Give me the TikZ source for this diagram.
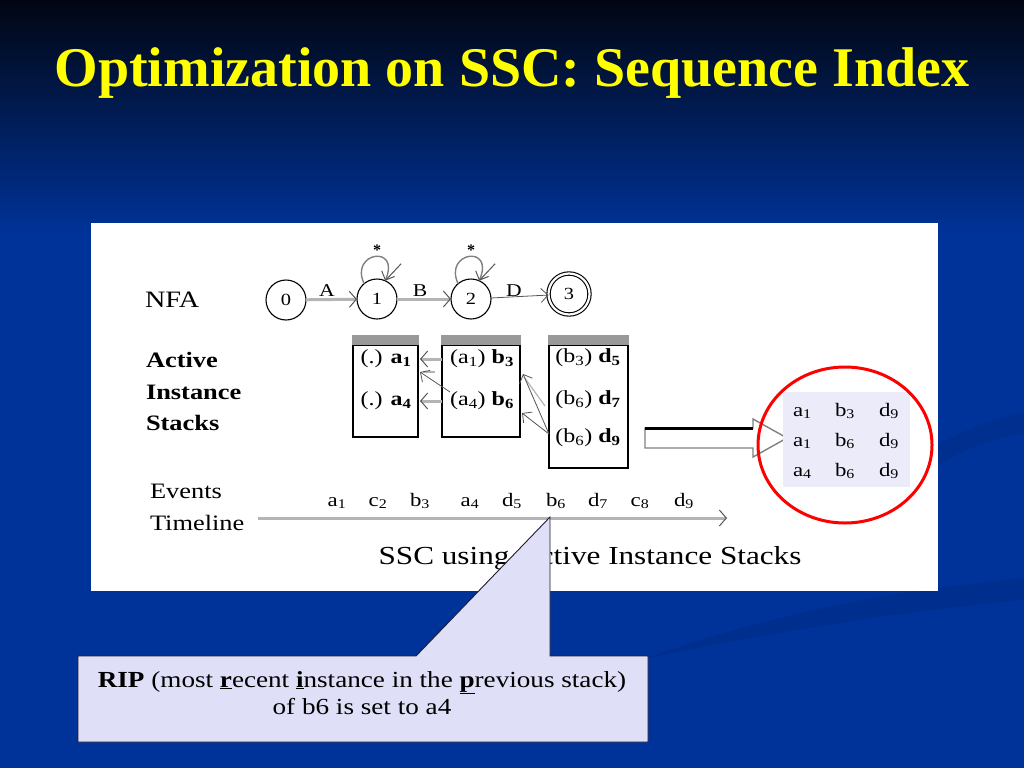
\documentclass[tikz,border=0pt]{standalone}
\usepackage{fontspec}
\setmainfont{Liberation Serif}
\newfontfamily\wide[FakeStretch=1.2]{Liberation Serif}
\newfontfamily\cwide[FakeStretch=1.18]{Liberation Serif}
\usetikzlibrary{arrows.meta,shapes.geometric,calc}
\definecolor{bgblue}{HTML}{003399}
\definecolor{bgtop}{HTML}{010612}
\definecolor{band}{HTML}{002C88}
\definecolor{ttl}{HTML}{FFFF00}
\definecolor{tabfill}{HTML}{EBEBFA}
\definecolor{calfill}{HTML}{DFDFF7}
\definecolor{bargray}{HTML}{999999}
\definecolor{linegray}{HTML}{B4B4B4}
\definecolor{tipgray}{HTML}{555555}
\definecolor{calline}{HTML}{1A1A33}
\newcommand\sbx[1]{\textsubscript{#1}}
\begin{document}
\begin{tikzpicture}[x=1pt,y=-1pt,
  every node/.style={inner sep=0pt,outer sep=0pt},
  state/.style={circle,draw=black,line width=1.1pt,minimum size=40pt,font=\wide\fontsize{17}{17}\selectfont},
  fstate/.style={state,double,double distance=2.2pt,minimum size=41pt},
  gline/.style={draw=linegray,line width=3pt,-{Straight Barb[length=7pt,width=16pt,line width=1pt,color=tipgray]}},
  tline/.style={draw=tipgray,line width=0.8pt,-{Straight Barb[length=7pt,width=14pt,line width=0.8pt]}},
  loopline/.style={draw=gray,line width=1.4pt,-{Straight Barb[length=7pt,width=14pt,line width=1pt,color=tipgray]}},
  lbl/.style={font=\wide\fontsize{18}{18}\selectfont,anchor=base},
  star/.style={font=\bfseries\fontsize{16}{16}\selectfont},
  stk/.style={draw=black,line width=1.6pt,fill=white},
  ent/.style={font=\wide\fontsize{20}{20}\selectfont},
  ev/.style={font=\wide\fontsize{19}{19}\selectfont,anchor=base},
  sidebf/.style={anchor=base west,font=\wide\bfseries\fontsize{22}{22}\selectfont},
  side/.style={anchor=base west,font=\wide\fontsize{22}{22}\selectfont},
]
\useasboundingbox (0,0) rectangle (1024,768);
% background
\fill[bgblue] (0,0) rectangle (1024,768);
\shade[top color=bgtop,bottom color=bgblue] (0,0) rectangle (1024,235);
\fill[band,opacity=0.6] (640,660) .. controls (780,610) and (900,590) .. (1024,578) -- (1024,600) .. controls (900,612) and (780,630) .. (640,660) -- cycle;
\fill[band,opacity=0.5] (930,450) .. controls (960,430) and (990,420) .. (1024,412) -- (1024,432) .. controls (990,440) and (960,450) .. (930,470) -- cycle;
% title
\node[font=\fontsize{56}{60}\selectfont\bfseries,text=ttl,anchor=base] (title) at (512,86) {Optimization on SSC: Sequence Index};
% white panel
\fill[white] (91,223) rectangle (938,591);
% NFA
\node[font=\wide\fontsize{23.5}{24}\selectfont,anchor=base west] (nfa) at (145,307) {NFA};
\node[state] (c0) at (286,300) {0};
\node[state] (c1) at (377,299) {1};
\node[state] (c2) at (471,299) {2};
\node[fstate] (c3) at (569,294) {3};
\draw[gline] (c0) -- (c1);
\draw[gline] (c1) -- (c2);
\draw[tline] (c2) -- (c3);
\node[lbl] (lA) at (327,296) {A};
\node[lbl] (lB) at (420,296) {B};
\node[lbl] (lD) at (514,296) {D};
\draw[loopline] (c1.130) .. controls (349,252) and (401,244) .. (c1.66);
\draw[loopline] (c2.130) .. controls (443,252) and (495,244) .. (c2.66);
\draw[tipgray,line width=1pt] (c1.66) -- ++(16,-17);
\draw[tipgray,line width=1pt] (c2.66) -- ++(16,-17);
\node[star] (s1) at (377,250) {*};
\node[star] (s2) at (471,250) {*};
% side labels
\node[sidebf] (ai1) at (146,367) {Active};
\node[sidebf] (ai2) at (146,399) {Instance};
\node[sidebf] (ai3) at (146,430) {Stacks};
\node[side] (ev1) at (150,498) {Events};
\node[side] (ev2) at (150,530) {Timeline};
% stacks
\node[stk,minimum width=65pt,minimum height=92pt] (st1) at (385.5,391) {};
\node[stk,minimum width=78pt,minimum height=92pt] (st2) at (481,391) {};
\node[stk,minimum width=79pt,minimum height=123pt] (st3) at (588.5,406.5) {};
\fill[bargray] ($(st1.north west)+(-0.8,0)$) rectangle ($(st1.north east)+(0.8,-10)$);
\fill[bargray] ($(st2.north west)+(-0.8,0)$) rectangle ($(st2.north east)+(0.8,-10)$);
\fill[bargray] ($(st3.north west)+(-0.8,0)$) rectangle ($(st3.north east)+(0.8,-10)$);
\node[ent] (a1) at (386,359) {(.) \textbf{a\sbx{1}}};
\node[ent] (a4) at (386,401) {(.) \textbf{a\sbx{4}}};
\node[ent] (b3) at (482,359) {(a\sbx{1}) \textbf{b\sbx{3}}};
\node[ent] (b6) at (482,401) {(a\sbx{4}) \textbf{b\sbx{6}}};
\node[ent] (d5) at (588,358) {(b\sbx{3}) \textbf{d\sbx{5}}};
\node[ent] (d7) at (588,400) {(b\sbx{6}) \textbf{d\sbx{7}}};
\node[ent] (d9) at (588,438) {(b\sbx{6}) \textbf{d\sbx{9}}};
% RIP pointers
\draw[gline] (st2.west |- b3) -- ($(st1.east |- a1)+(2,0)$);
\draw[gline] (st2.west |- b6) -- ($(st1.east |- a4)+(2,0)$);
\draw[draw=linegray,line width=2.5pt] ($(st1.east |- a1)+(5,13)$) -- ++(12,0);
\draw[tline] ($(st2.west |- b6)+(8,-9)$) -- ($(st1.east |- a1)+(2,13)$);
\draw[draw=linegray,line width=1.2pt] ($(st3.west |- d7)+(-4,6)$) -- ($(st2.east |- b3)+(4,18)$);
\draw[tline] ($(st3.west |- d9)+(0,-4)$) -- ($(st2.east |- b3)+(3,15)$);
\draw[tline] ($(st3.west |- d9)+(0,-4)$) -- ($(st2.east |- b6)+(2,12)$);
% big hollow arrow
\draw[draw=gray,line width=1.4pt,fill=white] (645,428) -- (753,428) -- (753,419) -- (787,438) -- (753,457) -- (753,448) -- (645,448) -- cycle;
\draw[black,line width=2.6pt] (645,428.5) -- (753,428.5);
% result table
\fill[tabfill] (783,392) rectangle (910,487);
\node[font=\wide\fontsize{19}{30}\selectfont] (res) at (846,440) {\setlength\tabcolsep{0pt}\begin{tabular}{p{42pt}p{44pt}l}
a\sbx{1} & b\sbx{3} & d\sbx{9}\\
a\sbx{1} & b\sbx{6} & d\sbx{9}\\
a\sbx{4} & b\sbx{6} & d\sbx{9}
\end{tabular}};
\node[ellipse,draw=red,line width=3pt,minimum width=174pt,minimum height=156pt] (ring) at (845,445) {};
% timeline
\coordinate (t0) at (258,518);
\coordinate (t1) at (727,518);
\draw[gline] (t0) -- (t1);
\node[ev] (e1) at (337,506) {a\sbx{1}};
\node[ev] (e2) at (378,506) {c\sbx{2}};
\node[ev] (e3) at (420,506) {b\sbx{3}};
\node[ev] (e4) at (470,506) {a\sbx{4}};
\node[ev] (e5) at (512,506) {d\sbx{5}};
\node[ev] (e6) at (556,506) {b\sbx{6}};
\node[ev] (e7) at (598,506) {d\sbx{7}};
\node[ev] (e8) at (640,506) {c\sbx{8}};
\node[ev] (e9) at (684,506) {d\sbx{9}};
\node[font=\wide\fontsize{26}{26}\selectfont,anchor=base] (cap) at (590,564) {SSC using Active Instance Stacks};
% callout
\node[minimum width=570pt,minimum height=86pt] (rip) at (363,699) {};
\coordinate (tip) at (550,517);
\draw[fill=calfill,draw=calline,line width=0.9pt] (rip.north west) -- ($(rip.north west)+(338,0)$) -- (tip) -- (tip |- rip.north) -- (rip.north east) -- (rip.south east) -- (rip.south west) -- cycle;
\node[font=\cwide\fontsize{23}{23}\selectfont,anchor=base] (rip1) at (362,687) {\textbf{RIP} (most \textbf{\underline{r}}ecent \textbf{\underline{i}}nstance in the \textbf{\underline{p}}revious stack)};
\node[font=\cwide\fontsize{23}{23}\selectfont,anchor=base] (rip2) at (362,714) {of b6 is set to a4};
\end{tikzpicture}
\end{document}
